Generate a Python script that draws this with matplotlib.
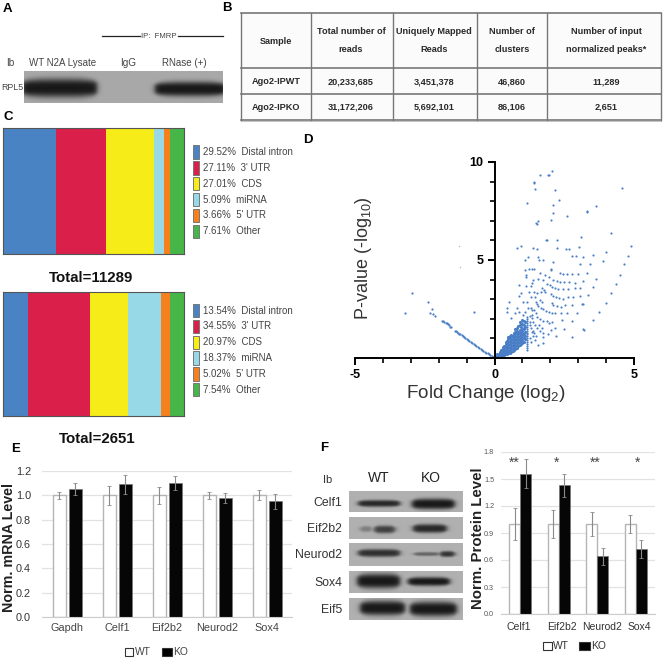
import numpy as np
import matplotlib
matplotlib.use("Agg")
import matplotlib.pyplot as plt
from matplotlib.patches import Rectangle

W, H = 663, 659
plt.rcParams["font.family"] = ["Liberation Sans", "DejaVu Sans"]
plt.rcParams["mathtext.default"] = "regular"

# ---------- data ----------
region_labels = ["Distal intron", "3' UTR", "CDS", "miRNA", "5' UTR", "Other"]
region_colors = ["#4a83c3", "#da1f4a", "#f5ec18", "#98d9e8", "#f67f1e", "#46b649"]
pct_total_11289 = [29.52, 27.11, 27.01, 5.09, 3.66, 7.61]
pct_total_2651 = [13.54, 34.55, 20.97, 18.37, 5.02, 7.54]

table_header = [["Sample"], ["Total number of", "reads"], ["Uniquely Mapped", "Reads"],
                ["Number of", "clusters"], ["Number of input", "normalized peaks*"]]
table_rows = [["Ago2-IPWT", "20,233,685", "3,451,378", "46,860", "11,289"],
              ["Ago2-IPKO", "31,172,206", "5,692,101", "86,106", "2,651"]]

mrna_genes = ["Gapdh", "Celf1", "Eif2b2", "Neurod2", "Sox4"]
mrna_wt = [1.0, 1.0, 1.0, 1.0, 1.0]
mrna_ko = [1.05, 1.09, 1.10, 0.98, 0.95]
mrna_wt_err = [0.03, 0.08, 0.07, 0.03, 0.04]
mrna_ko_err = [0.05, 0.08, 0.06, 0.04, 0.06]

prot_genes = ["Celf1", "Eif2b2", "Neurod2", "Sox4"]
prot_wt = [1.0, 1.0, 1.0, 1.0]
prot_ko = [1.56, 1.43, 0.64, 0.72]
prot_wt_err = [0.18, 0.16, 0.13, 0.10]
prot_ko_err = [0.16, 0.13, 0.09, 0.10]
prot_stars = ["**", "*", "**", "*"]

volcano_upper = [
 (2.06,9.54),(1.93,9.35),(1.97,9.35),(1.64,9.32),(1.42,9.0),(1.42,8.93),(1.46,8.64),(2.16,8.57),(4.58,8.69),
 (2.32,8.08),(1.18,7.91),(2.09,7.81),(3.64,7.77),(3.33,7.52),(3.33,7.46),(2.09,7.38),(2.61,7.23),(2.03,7.06),
 (1.55,7.01),(1.49,6.9),(1.51,6.84),(4.16,6.36),(3.09,6.17),(1.87,6.0),(1.84,6.0),(2.24,6.02),(0.95,5.73),
 (0.81,5.63),(1.39,5.63),(1.51,5.58),(2.24,5.6),(2.56,5.56),(2.68,5.56),(3.03,5.66),(4.88,5.7),(3.99,5.43),
 (2.77,5.19),(2.92,5.22),(3.18,5.14),(3.52,5.26),(4.77,5.2),(1.2,5.15),(1.57,5.14),(1.61,5.02),(1.73,4.98),
 (1.09,5.02),(3.88,4.97),(2.09,4.88),(3.06,4.78),(3.41,4.81),(4.64,4.78),(1.09,4.49),(1.25,4.52),(1.33,4.54),
 (1.42,4.54),(2.03,4.49),(2.03,4.56),(1.63,4.35),(1.81,4.23),(1.95,4.15),(2.35,4.32),(2.47,4.3),(2.61,4.3),
 (2.77,4.3),(3.0,4.3),(3.3,4.35),(3.64,4.03),(4.5,4.23),(4.36,3.79),(1.13,4.25),(1.13,4.15),(2.11,3.98),
 (2.23,3.95),(2.35,3.89),(2.49,3.86),(2.67,3.86),(2.89,3.84),(3.18,3.95),(1.39,3.98),(1.57,4.01),(1.73,3.98),
 (1.33,3.81),(0.89,3.74),(1.13,3.67),(1.3,3.67),(1.89,3.76),(1.99,3.71),(2.07,3.64),(2.17,3.55),(2.29,3.5),
 (2.44,3.5),(2.65,3.54),(2.89,3.55),(3.06,3.55),(3.52,3.6),(4.16,3.3),(1.71,3.57),(1.77,3.47),(1.81,3.37),
 (1.25,3.38),(1.42,3.38),(1.51,3.3),(1.65,3.35),(0.94,3.3),(0.89,3.16),(2.03,3.25),(2.11,3.18),(2.19,3.11),
 (2.31,3.04),(2.47,3.03),(2.65,3.1),(2.83,3.1),(3.06,3.16),(3.36,3.21),(1.45,3.13),(1.63,2.96),(1.71,2.87),
 (1.3,3.1),(1.15,2.87),(1.01,2.84),(3.99,2.82),(0.53,2.84),(0.46,2.57),(0.46,2.33),(1.48,2.87),(1.51,2.76),
 (1.57,2.67),(1.65,2.57),(1.75,2.48),(1.85,2.41),(1.97,2.36),(2.05,2.79),(2.11,2.7),(2.23,2.67),(2.37,2.62),
 (2.53,2.7),(2.77,2.7),(3.18,2.74),(3.15,2.74),(3.76,2.36),(1.21,2.57),(1.3,2.57),(1.36,2.45),(1.09,2.36),
 (0.89,2.36),(0.73,2.31),(0.8,2.57),(1.43,2.45),(1.48,2.28),(1.54,2.11),(1.63,1.97),(1.75,1.89),(1.87,1.89),
 (1.97,1.77),(2.05,2.31),(2.17,2.28),(2.37,2.31),(2.59,2.31),(2.97,2.31),(2.41,1.94),(2.77,1.9),(3.52,1.94),
 (0.58,2.02),(1.03,2.19),(1.15,2.11),(1.27,2.14),(1.33,2.19),(1.33,2.02),(1.39,1.85),(1.45,1.68),(1.51,1.51),
 (1.63,1.38),(1.75,1.26),(2.05,1.85),(2.17,1.51),(2.49,1.48),(3.18,1.46),(3.22,1.45),(2.03,1.43),(1.93,1.22),
 (1.75,1.05),(2.19,1.12),(2.77,1.05),(1.57,0.66),(1.73,0.78),(1.45,0.92),(1.37,1.4),(1.42,1.25),(1.5,1.1),
 (1.6,1.68),(1.72,1.55),(1.26,1.85),(1.26,1.7),(1.3,1.55),(1.34,1.35),(1.38,1.12),(1.28,1.0),(1.3,0.8)]
volcano_faint = [(-1.28,5.73),(-1.24,4.64)]
volcano_stripe_x = [1.18, 1.18, 1.18, 1.18, 1.18, 1.18, 1.18, 1.18, 1.18, 1.18, 1.18, 1.18, 1.18, 1.18, 1.18, 1.18, 1.18]
volcano_stripe_y = [2.0, 1.9, 1.8, 1.7, 1.6, 1.5, 1.4, 1.3, 1.2, 1.1, 1.0, 0.9, 0.8, 0.7, 0.6, 0.5, 0.4]
volcano_cluster = {
 0.05:[.03,.06], 0.10:[.05,.12,.18], 0.15:[.08,.15,.22], 0.20:[.1,.18,.26,.33], 0.25:[.12,.2,.3,.4],
 0.30:[.15,.24,.34,.45,.55], 0.35:[.17,.27,.38,.5,.62], 0.40:[.2,.3,.42,.55,.7,.8], 0.45:[.22,.33,.47,.6,.74,.86],
 0.50:[.25,.37,.5,.65,.8,.95,1.05], 0.55:[.28,.4,.55,.7,.85,1.0,1.1], 0.60:[.3,.45,.6,.75,.9,1.05,1.15],
 0.65:[.35,.5,.65,.8,.95,1.1], 0.70:[.4,.55,.7,.85,1.0,1.15,1.3], 0.75:[.45,.6,.75,.9,1.05,1.2,1.35,1.5],
 0.80:[.5,.65,.8,.95,1.1,1.25,1.4,1.55], 0.85:[.6,.75,.9,1.05,1.2,1.35,1.65], 0.90:[.65,.8,.95,1.1,1.25,1.45,1.7,1.85],
 0.95:[.7,.85,1.0,1.15,1.3,1.6,1.8], 1.00:[.75,.9,1.05,1.2,1.4,1.55,1.75,1.95], 1.05:[.8,1.0,1.15,1.3,1.5,1.7,1.9],
 1.10:[.95,1.1,1.35,1.6,1.85]}
volcano_left = [
 (-2.94,3.33),(-2.37,2.87),(-2.23,2.52),(-2.31,2.31),(-2.22,2.23),(-2.13,2.13),(-3.22,2.31),(-0.73,2.35),
 (-1.89,1.9),(-1.85,1.87),(-1.80,1.84),(-1.75,1.80),(-1.71,1.77),(-1.66,1.72),(-1.62,1.66),(-1.59,1.6),(-1.55,1.56),
 (-1.42,1.4),(-1.38,1.36),(-1.34,1.32),(-1.30,1.28),(-1.26,1.24),(-1.22,1.20),(-1.18,1.15),(-1.14,1.11),(-1.10,1.07),
 (-1.05,1.02),(-1.00,0.97),(-0.95,0.92),(-0.90,0.88),(-0.85,0.83),(-0.80,0.78),(-0.75,0.73),(-0.70,0.68),(-0.65,0.63),
 (-0.60,0.58),(-0.55,0.53),(-0.50,0.48),(-0.45,0.43),(-0.40,0.38),(-0.35,0.33),(-0.30,0.28),(-0.25,0.23),(-0.20,0.18),
 (-0.15,0.14),(-0.10,0.09),(-0.05,0.05)]
volcano_base_x = [-1.95, -1.9, -1.85, -1.8, -1.75, -1.7, -1.6, -1.5, -1.45, -1.35, -1.3, -1.2, -1.15, -1.1, -1.0,
                  -0.95, -0.9, -0.85, -0.8, -0.75, -0.7, -0.65, -0.6, -0.55, -0.5, -0.45, -0.4, -0.35, -0.3, -0.25,
                  -0.2, -0.15, -0.1, -0.05, 0.0, 0.05, 0.1, 0.15, 0.2]
volcano_base_y = [0.0] * len(volcano_base_x)

# ---------- helpers ----------
fig = plt.figure(figsize=(W / 100, H / 100), dpi=100)
def axpx(x0, y0, x1, y1, **kw):
    return fig.add_axes([x0 / W, 1 - y1 / H, (x1 - x0) / W, (y1 - y0) / H], **kw)

ov = axpx(0, 0, W, H)
ov.set_xlim(0, W); ov.set_ylim(H, 0); ov.axis("off")

def T(x, y, s, size=8, weight="normal", ha="center", color="#2a2a2a", rot=0, va="center"):
    ov.text(x, y, s, fontsize=size, fontweight=weight, ha=ha, va=va, color=color, rotation=rot)

def blot(x0, y0, x1, y1, bg, bands):
    xs = np.linspace(x0, x1, int((x1 - x0) * 2))
    ys = np.linspace(y0, y1, int((y1 - y0) * 2))
    X, Y = np.meshgrid(xs, ys)
    dark = np.zeros_like(X)
    for bx0, bx1, yc, h, d in bands:
        px = 0.5 * (np.tanh((X - bx0) / 3.0) - np.tanh((X - bx1) / 3.0))
        # the band tapers in thickness towards both ends
        mid, half = (bx0 + bx1) / 2, (bx1 - bx0) / 2
        taper = 0.72 + 0.28 * np.clip(1 - ((X - mid) / half) ** 4, 0, 1)
        py = np.exp(-np.abs((Y - yc) / (h / 2 * taper)) ** 3)
        dark = np.maximum(dark, d * px * py)
    ov.imshow(bg * (1 - dark) + 0.1 * dark, extent=(x0, x1, y1, y0), cmap="gray", vmin=0, vmax=1,
              aspect="auto", interpolation="bilinear", zorder=1)

# ---------- panel A ----------
T(3, 9, "A", 9.5, "bold", ha="left", color="black")
T(222, 8, "B", 9.5, "bold", ha="left", color="black")
ov.plot([102, 140], [36, 36], color="#222", lw=0.9)
ov.plot([178, 223], [36, 36], color="#222", lw=0.9)
T(159, 37, "IP:  FMRP", 5.6, color="#444")
T(10, 63, "Ib", 7.2, color="#444")
T(63, 63, "WT N2A Lysate", 7.0, color="#444")
T(128, 63, "IgG", 7.2, color="#444")
T(184, 63, "RNase (+)", 7.0, color="#444")
T(12, 88, "RPL5", 6.4, color="#444")
blot(24, 71, 223, 103, 0.66, [(22, 97, 88, 19, 1.0), (155, 226, 89, 15, 1.0)])

# ---------- panel B ----------
col_edges = [241, 311, 393, 477, 547, 661]
row_edges = [13, 68, 94, 120]
ov.add_patch(Rectangle((241, 120.5), 421, 1.6, color="#c4c4c4", lw=0, zorder=0))
ov.add_patch(Rectangle((241, 13), 420, 107, facecolor="#fbfbfb", edgecolor="none", zorder=0))
for xv in col_edges:
    ov.plot([xv, xv], [row_edges[0], row_edges[-1]], color="#777777", lw=1.0)
for yv in row_edges:
    ov.plot([col_edges[0], col_edges[-1]], [yv, yv], color="#777777", lw=1.2)
col_centers = [276, 351, 434, 512, 606]
for cx, lines in zip(col_centers, table_header):
    if len(lines) == 1:
        T(cx, 42, lines[0], 6.6, "bold")
    else:
        T(cx, 32, lines[0], 6.6, "bold")
        T(cx, 50, lines[1], 6.6, "bold")
for yv, row in zip([82, 107], table_rows):
    for cx, s in zip(col_centers, row):
        T(cx, yv, s, 6.6, "bold")

# ---------- panel C ----------
T(3, 117, "C", 9.5, "bold", ha="left", color="black")
def stacked(y0, y1, vals, leg_y, title, title_x, title_y):
    ax = axpx(3, y0, 184, y1)
    left = 0
    for v, c in zip(vals, region_colors):
        ax.barh(0, v, left=left, height=1, color=c, lw=0)
        left += v
    ax.set_xlim(0, sum(vals)); ax.set_ylim(-0.5, 0.5)
    ax.set_xticks([]); ax.set_yticks([])
    for s in ax.spines.values():
        s.set_color("#555555"); s.set_linewidth(0.8)
    for i, (v, c, lab) in enumerate(zip(vals, region_colors, region_labels)):
        yy = leg_y + i * 15.85
        ov.add_patch(Rectangle((192.5, yy - 6.7), 6.5, 13.4, facecolor=c, edgecolor="#777777", lw=0.7))
        T(203, yy, f"{v:.2f}%  {lab}", 7.0, ha="left", color="#444")
    T(title_x, title_y, title, 10.8, "bold", color="#111")
stacked(128, 254, pct_total_11289, 152, "Total=11289", 91, 278)
stacked(292, 416, pct_total_2651, 310.5, "Total=2651", 97, 439)

# ---------- panel D ----------
T(303, 140, "D", 9.5, "bold", ha="left", color="black")
axd = axpx(355, 162, 634, 358)
axd.set_xlim(-5, 5); axd.set_ylim(0, 10)
axd.patch.set_alpha(0)
vup = np.array(volcano_upper); vl = np.array(volcano_left); vf = np.array(volcano_faint)
cx_pts = [x for x, ys in volcano_cluster.items() for _ in ys]
cy_pts = [y for ys in volcano_cluster.values() for y in ys]
kw = dict(color="#4a7fc7", linewidths=0, clip_on=False)
axd.scatter(vup[:, 0], vup[:, 1], s=2.4, **kw)
axd.scatter(vf[:, 0], vf[:, 1], s=1.0, color="#9db9de", linewidths=0)
axd.scatter(volcano_stripe_x, volcano_stripe_y, s=2.4, **kw)
axd.scatter(cx_pts, cy_pts, s=5.0, **kw)
axd.scatter(vl[:, 0], vl[:, 1], s=2.6, **kw)
axd.plot(volcano_base_x, volcano_base_y, color="#4a7fc7", lw=1.3, clip_on=False)
for s in ["top", "right"]:
    axd.spines[s].set_visible(False)
axd.spines["left"].set_position(("data", 0))
axd.spines["left"].set_linewidth(1.4); axd.spines["bottom"].set_linewidth(1.4)
axd.set_xticks([-5, 0, 5]); axd.set_xticklabels(["-5", "0", "5"])
axd.set_xticks(range(-5, 6), minor=True)
axd.set_yticks([5, 10]); axd.set_yticklabels(["5", "10"])
axd.set_yticks(range(0, 11), minor=True)
axd.tick_params(which="major", length=5, width=1.4, labelsize=9, pad=3)
axd.tick_params(which="minor", length=3.5, width=1.2)
for lab in axd.get_xticklabels() + axd.get_yticklabels():
    lab.set_fontweight("bold")
T(363, 258, r"P-value (-log$_{10}$)", 13.0, rot=90, color="#333")
T(486, 394, r"Fold Change (log$_{2}$)", 13.6, color="#333")

# ---------- panel E ----------
def bars(rect, genes, wt, ko, wt_err, ko_err, ymax, yticks, offs, width, fmt, tsize, tcolor):
    ax = axpx(*rect)
    xs = np.arange(len(genes))
    ax.bar(xs - offs, wt, width, color="white", edgecolor="#b5b5b5", lw=1.0, zorder=2)
    ax.bar(xs + offs, ko, width, color="#060606", edgecolor="#777777", lw=0.5, zorder=2)
    ebkw = dict(ecolor="#8a8a8a", elinewidth=0.8, capsize=1.2, capthick=0.6, fmt="none", zorder=3)
    ax.errorbar(xs - offs, wt, yerr=wt_err, **ebkw)
    ax.errorbar(xs + offs, ko, yerr=ko_err, **ebkw)
    ax.set_xlim(-0.5, len(genes) - 0.5); ax.set_ylim(0, ymax)
    ax.set_yticks(yticks)
    ax.set_yticklabels([fmt % v for v in yticks])
    ax.set_xticks([])
    ax.grid(axis="y", color="#e2e2e2", lw=0.9, zorder=0)
    ax.set_axisbelow(True)
    ax.tick_params(axis="y", length=0, labelsize=tsize, labelcolor=tcolor)
    for s in ["top", "right", "left"]:
        ax.spines[s].set_visible(False)
    ax.spines["bottom"].set_color("#cccccc")
    ax.patch.set_alpha(0)
    return ax

T(11, 449, "E", 9.5, "bold", ha="left", color="black")
axe = bars((42, 471, 292, 617), mrna_genes, mrna_wt, mrna_ko, mrna_wt_err, mrna_ko_err, 1.2,
           [0, .2, .4, .6, .8, 1.0, 1.2], 0.16, 0.26, "%.1f", 7.8, "#333")
axe.tick_params(axis="y", pad=8)
for i, g in enumerate(mrna_genes):
    axe.annotate(g, (i, 0), xytext=(0, -8), textcoords="offset points", ha="center", va="center",
                 fontsize=7.8, color="#444")
T(9, 548, "Norm. mRNA Level", 10.3, "bold", rot=90, color="#222")
for x0, w, fc, tx, s in [(125, 8, "white", 135, "WT"), (162, 10, "black", 173, "KO")]:
    ov.add_patch(Rectangle((x0, 648), w, 8, facecolor=fc, edgecolor="#333", lw=0.8))
    T(tx, 652, s, 7.4, ha="left", color="#444")

# ---------- panel F ----------
T(320, 448, "F", 9.5, "bold", ha="left", color="black")
T(328, 480, "Ib", 8, color="#333")
T(379, 478, "WT", 10, color="#222")
T(431, 478, "KO", 10, color="#222")
blot_names = ["Celf1", "Eif2b2", "Neurod2", "Sox4", "Eif5"]
blot_rows = [(491, 512), (517, 539), (543, 566), (571, 593), (598, 620)]
blot_bands = [
    [(358, 400, 503.5, 7, .9), (412, 455, 504, 11, 1.0)],
    [(360, 372, 529, 6, .35), (374, 395, 529.5, 8, .75), (413, 447, 528.5, 9, .9)],
    [(358, 400, 553, 8, .85), (414, 440, 554, 4, .5), (440, 455, 554, 6, .85)],
    [(357, 400, 581, 15, 1.0), (408, 450, 581.5, 9, 1.0)],
    [(360, 405, 608, 15, 1.0), (410, 457, 609, 15, 1.0)],
]
for n, (y0, y1), b in zip(blot_names, blot_rows, blot_bands):
    blot(349, y0, 463, y1, 0.69, b)
    T(342, (y0 + y1) / 2 + 1, n, 8.8, ha="right", color="#333")

axf = bars((501, 452, 655, 614), prot_genes, prot_wt, prot_ko, prot_wt_err, prot_ko_err, 1.8,
           [0, .3, .6, .9, 1.2, 1.5, 1.8], 0.14, 0.28, "%.1f", 5.2, "#555")
axf.tick_params(axis="y", pad=5)
for xv, s in zip([519, 562, 602, 639], prot_genes):
    T(xv, 627, s, 7.5, color="#333")
for xv, s in zip([514, 557, 595, 638], prot_stars):
    T(xv, 463, s, 10, color="#444")
T(478, 538, "Norm. Protein Level", 10.8, "bold", rot=90, color="#222")
for x0, w, fc, tx, s in [(543, 8.5, "white", 553, "WT"), (579, 11, "black", 591, "KO")]:
    ov.add_patch(Rectangle((x0, 642), w, 8, facecolor=fc, edgecolor="#333", lw=0.8))
    T(tx, 646, s, 7.4, ha="left", color="#333")

ov.set_xlim(0, W); ov.set_ylim(H, 0)
fig.savefig("out.png", dpi=100)
